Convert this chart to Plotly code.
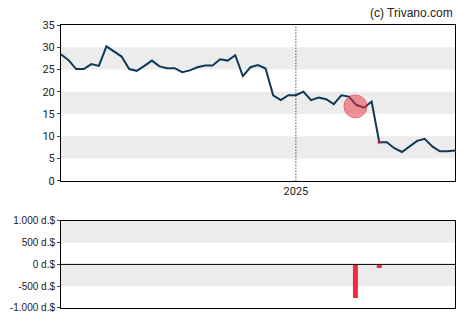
import pandas as pd
import plotly.graph_objects as go

# Weekly closing prices
start = pd.Timestamp("2024-05-29")
prices = [28.4, 27.1, 25.1, 25.1, 26.2, 25.8, 30.2, 29.1, 27.9, 25.1,
          24.7, 25.8, 27.0, 25.7, 25.3, 25.3, 24.4, 24.8, 25.5, 25.9,
          25.9, 27.3, 27.0, 28.2, 23.5, 25.5, 26.0, 25.2, 19.2, 18.1,
          19.2, 19.2, 20.0, 18.1, 18.7, 18.3, 17.2, 19.2, 18.9, 17.0,
          16.4, 17.8, 8.65, 8.65, 7.3, 6.45, 7.6, 8.95, 9.4, 7.7,
          6.6, 6.6, 6.8]
dates = [start + pd.Timedelta(weeks=i) for i in range(len(prices))]

# Insider transactions (net value, thousand dollars)
trade_dates = ["2025-02-25", "2025-03-19"]
trade_values = [-770, -80]
trade_prices = [16.7, 8.65]
trade_sizes = [23, 3]

price_ticks = [0, 5, 10, 15, 20, 25, 30, 35]
value_ticks = [-1000, -500, 0, 500, 1000]
value_labels = ["-1.000 d.$", "-500 d.$", "0 d.$", "500 d.$", "1.000 d.$"]

x_range = [dates[0], dates[-1]]

fig = go.Figure()

fig.add_trace(go.Scatter(
    x=dates, y=prices, mode="lines",
    line=dict(color="#0e3a58", width=2),
    xaxis="x", yaxis="y", hoverinfo="skip",
))
fig.add_trace(go.Scatter(
    x=trade_dates, y=trade_prices, mode="markers",
    marker=dict(size=trade_sizes, color="rgba(236,50,66,0.72)",
                line=dict(color="rgba(225,40,55,0.85)", width=1)),
    xaxis="x", yaxis="y", hoverinfo="skip",
))
fig.add_trace(go.Bar(
    x=trade_dates, y=trade_values,
    marker=dict(color="#ee2a3c", line=dict(width=0)),
    width=4.6 * 86400000,
    xaxis="x2", yaxis="y2", hoverinfo="skip",
))

shapes = []
# alternating bands on the price panel
for lo, hi in [(5, 10), (15, 20), (25, 30)]:
    shapes.append(dict(type="rect", xref="x domain", yref="y", x0=0, x1=1,
                       y0=lo, y1=hi, fillcolor="#ececec", line=dict(width=0),
                       layer="below"))
# bands on the transaction panel
for lo, hi in [(500, 1000), (-500, 0)]:
    shapes.append(dict(type="rect", xref="x2 domain", yref="y2", x0=0, x1=1,
                       y0=lo, y1=hi, fillcolor="#ececec", line=dict(width=0),
                       layer="below"))
# year marker
shapes.append(dict(type="line", xref="x", yref="y domain",
                   x0="2025-01-01", x1="2025-01-01", y0=0, y1=1,
                   line=dict(color="black", width=1, dash="1px,2px")))
# zero line on transaction panel
shapes.append(dict(type="line", xref="x2 domain", yref="y2",
                   x0=0, x1=1, y0=0, y1=0, line=dict(color="black", width=1)))

axis_common = dict(showgrid=False, zeroline=False, showline=True,
                   linecolor="black", linewidth=1, mirror=True)

fig.update_layout(
    width=470, height=325,
    margin=dict(l=60, r=15, t=25, b=10),
    paper_bgcolor="white", plot_bgcolor="white",
    showlegend=False,
    shapes=shapes,
    xaxis=dict(**axis_common, domain=[0, 1], anchor="y", range=x_range,
               tickvals=["2025-01-01"], ticktext=["2025"], ticks="",
               tickfont=dict(family="Roboto", size=11, color="#222")),
    yaxis=dict(**axis_common, domain=[0.45, 1], anchor="x", range=[0, 35],
               tickvals=price_ticks, ticks="outside", ticklen=3,
               tickfont=dict(family="Roboto", size=11, color="#222")),
    xaxis2=dict(**axis_common, domain=[0, 1], anchor="y2", range=x_range,
                showticklabels=False, ticks=""),
    yaxis2=dict(**axis_common, domain=[0, 0.308], anchor="x2",
                range=[-1000, 1000], tickvals=value_ticks,
                ticktext=value_labels, ticks="outside", ticklen=3,
                tickfont=dict(family="Liberation Sans", size=10, color="#222")),
    annotations=[dict(text="(c) Trivano.com", xref="paper", yref="paper",
                      x=1, y=1, yshift=3, xanchor="right", yanchor="bottom",
                      showarrow=False,
                      font=dict(family="Liberation Sans", size=12, color="#222"))],
)

fig.write_html("out.html")
